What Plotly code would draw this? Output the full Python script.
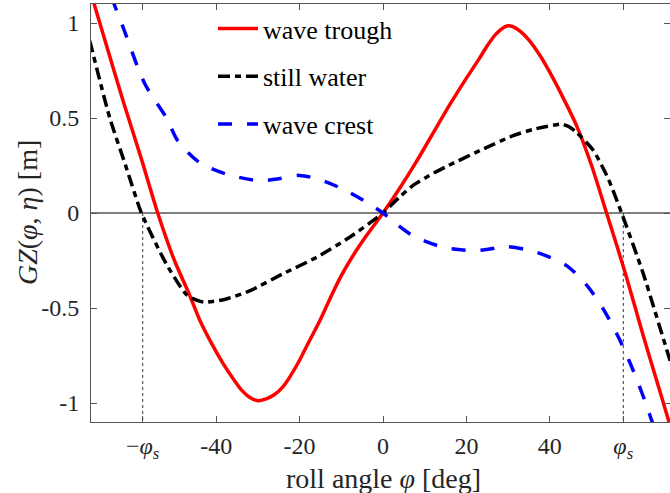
import plotly.graph_objects as go

# ---- data ----
phi_trough = [-72, -69.1, -66, -62.3, -58, -54, -50, -46.4, -44, -41, -38.4, -36, -34, -32, -30, -28, -26, -24, -22.4, -20,
              -18.4, -15, -12.8, -10, -7.2, -4, 0,
              4, 8, 12, 16, 20, 23, 25, 27, 29, 30, 31, 33, 35, 37.6, 40, 42.4, 46.4, 50, 53.6, 58, 62.3, 66, 68.3, 72]
gz_trough = [1.30, 1.09, 0.86, 0.59, 0.29, 0.0, -0.25, -0.43, -0.56, -0.69, -0.79, -0.87, -0.93, -0.97, -0.988, -0.978, -0.955,
             -0.915, -0.865, -0.775, -0.705, -0.56, -0.455, -0.33, -0.225, -0.12, 0.0,
             0.13, 0.27, 0.42, 0.57, 0.71, 0.81, 0.88, 0.94, 0.978, 0.986, 0.982, 0.955, 0.91, 0.83, 0.74, 0.64, 0.46,
             0.25, 0.0, -0.31, -0.64, -0.91, -1.08, -1.35]

phi_still = [-72, -70, -65.5, -61.7, -57.9, -51.9, -47.1, -44.5, -42.8, -38, -32, -24, -16, -8, 0,
             4, 7.2, 11, 15.2, 23.2, 31.2, 36, 39.2, 42.8, 44.5, 46.4, 50.4, 54, 57.2, 62.4, 68.3, 72]
gz_still = [1.05, 0.88, 0.50, 0.25, 0.0, -0.27, -0.43, -0.46, -0.47, -0.455, -0.41, -0.32, -0.234, -0.128, 0.0,
            0.085, 0.145, 0.196, 0.245, 0.328, 0.407, 0.44, 0.455, 0.468, 0.455, 0.424, 0.33, 0.18, 0.0, -0.32, -0.74, -1.0]

phi_crest = [-70, -66, -64.4, -62.3, -57.1, -51.9, -49.2, -44, -37.6, -29.6, -25, -20, -14.4, -8, 0,
             3.2, 7.2, 14.4, 21.6, 25.5, 29.6, 36.8, 44, 49.2, 53.2, 56.8, 60, 62.8, 65, 70]
gz_crest = [1.42, 1.19, 1.096, 0.977, 0.68, 0.50, 0.38, 0.266, 0.205, 0.17, 0.18, 0.198, 0.17, 0.108, 0.0,
            -0.058, -0.12, -0.18, -0.198, -0.19, -0.177, -0.207, -0.277, -0.39, -0.52, -0.67, -0.83, -0.99, -1.13, -1.45]

phi_s = 57.6
x_ticks = [-phi_s, -40, -20, 0, 20, 40, phi_s]
x_ticktext = ["\u2212<i>φ</i><sub><i>s</i></sub>", "-40", "-20", "0", "20", "40", "<i>φ</i><sub><i>s</i></sub>"]
y_ticks = [-1, -0.5, 0, 0.5, 1]
y_ticktext = ["-1", "-0.5", "0", "0.5", "1"]

FONT = "Liberation Serif"
TXT = "#262626"

fig = go.Figure()
fig.add_trace(go.Scatter(x=phi_trough, y=gz_trough, mode="lines", name="wave trough", legendgroup="a",
                         line=dict(color="#ff0000", width=3.5, shape="spline", smoothing=0.6)))
fig.add_trace(go.Scatter(x=phi_still, y=gz_still, mode="lines", name="still water", legendgroup="b",
                         line=dict(color="#000000", width=3.5, dash="12px,5px,6px,5px", shape="spline", smoothing=0.6)))
fig.add_trace(go.Scatter(x=phi_crest, y=gz_crest, mode="lines", name="wave crest", legendgroup="c",
                         line=dict(color="#0000ff", width=3.5, dash="14px,15px", shape="spline", smoothing=0.8)))

# zero line and stability-angle markers
fig.add_hline(y=0, line=dict(color="black", width=1), layer="below")
for xv in (-phi_s, phi_s):
    fig.add_shape(type="line", x0=xv, x1=xv, y0=0, y1=-1.1, xref="x", yref="y",
                  line=dict(color="#333333", width=1, dash="dot"), layer="below")

axis_common = dict(showline=True, linecolor="#555555", linewidth=1, mirror="ticks", ticks="inside",
                   ticklen=6, tickcolor="#555555", showgrid=False, zeroline=False,
                   tickfont=dict(family=FONT, size=24, color=TXT))

fig.update_xaxes(range=[-70, 68.8], tickmode="array", tickvals=x_ticks, ticktext=x_ticktext,
                 ticklabelstandoff=2, **axis_common)
fig.update_yaxes(range=[-1.1, 1.1], tickmode="array", tickvals=y_ticks, ticktext=y_ticktext,
                 ticklabelstandoff=6, **axis_common)

fig.add_annotation(text="roll angle <i>φ</i> [deg]", x=0, xref="x", y=(422 - 479) / 418, yref="paper",
                   showarrow=False, xanchor="center", yanchor="middle",
                   font=dict(family=FONT, size=28, color=TXT))
fig.add_annotation(text="<i>GZ</i>(<i>φ</i>, <i>η</i>) [m]", x=(27 - 91) / 579, xref="paper", y=0.5, yref="paper",
                   textangle=-90, showarrow=False, xanchor="center", yanchor="middle",
                   font=dict(family=FONT, size=28, color=TXT))

fig.update_layout(
    width=670, height=493,
    margin=dict(l=91, r=0, t=4, b=71),
    plot_bgcolor="white", paper_bgcolor="white",
    font=dict(family=FONT, color=TXT),
    showlegend=True,
    legend=dict(x=(213 - 91) / 579, y=1 - (5 - 4) / 418, xanchor="left", yanchor="top",
                bgcolor="rgba(0,0,0,0)", borderwidth=0, tracegroupgap=11, itemwidth=40,
                font=dict(family=FONT, size=26, color="black")),
)

fig.write_html("out.html")
